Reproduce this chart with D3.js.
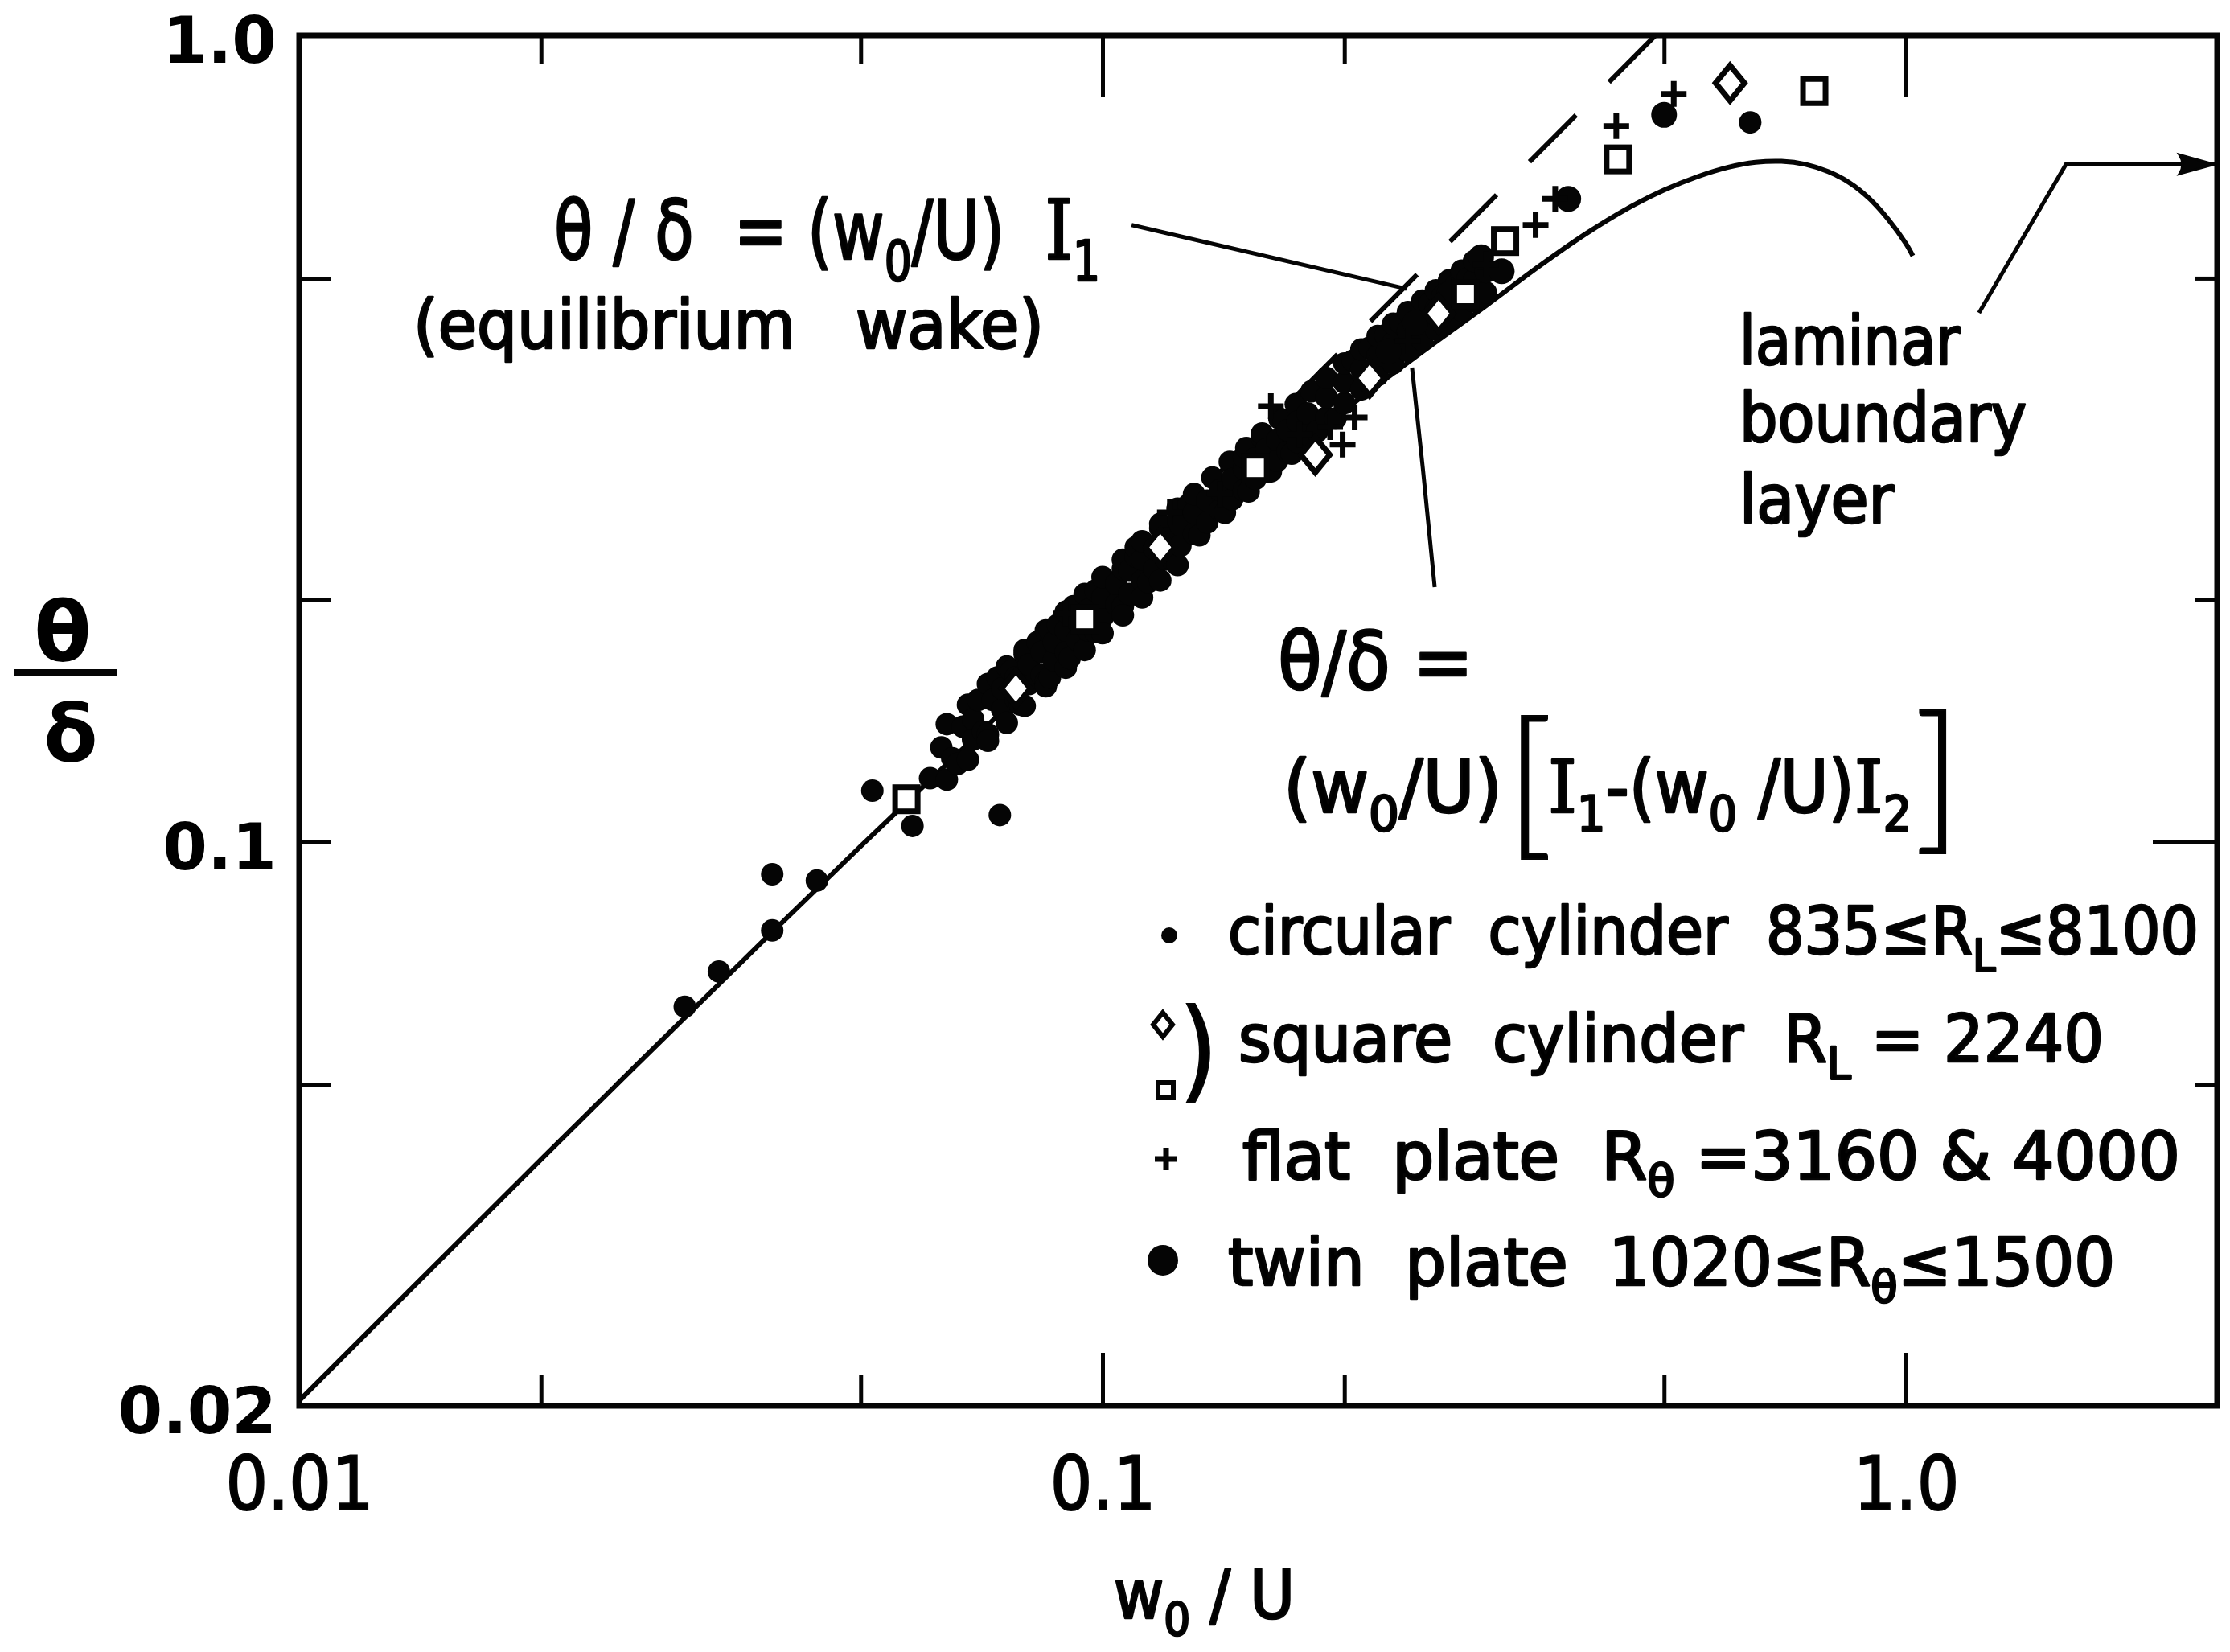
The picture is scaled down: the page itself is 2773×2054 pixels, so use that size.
<!DOCTYPE html>
<html>
<head>
<meta charset="utf-8">
<title>Momentum thickness ratio in wakes</title>
<script src="https://cdn.jsdelivr.net/npm/d3@7/dist/d3.min.js"></script>
<style>
  html, body { margin: 0; padding: 0; background: #fff; }
  svg { display: block; }
  text { fill: #000; }
</style>
</head>
<body>
<svg id="chart" width="2773" height="2054"></svg>
<script>
// ---- axes ----
const xDomain = [0.01, 2.44];
const yDomain = [0.02, 1.0];
const xMajorTicks = [0.1, 1.0];
const xMinorTicks = [0.02, 0.05, 0.2, 0.5];
const xLabelValues = [0.01, 0.1, 1.0];
const xLabelTexts = ["0.01", "0.1", "1.0"];
const yLeftTicks = [0.05, 0.1, 0.2, 0.5];
const yRightMinorTicks = [0.05, 0.2, 0.5];
const yRightMajorTicks = [0.1];
const yLabelValues = [0.02, 0.1, 1.0];
const yLabelTexts = ["0.02", "0.1", "1.0"];

// ---- curves (w0/U, theta/delta) ----
// theta/delta = (w0/U)[I1 - (w0/U) I2]
const wakeCurve = [
  [0.01, 0.0203], [0.02, 0.0404], [0.03, 0.0602], [0.05, 0.0988], [0.07, 0.136],
  [0.1, 0.190], [0.15, 0.272], [0.2, 0.343], [0.25, 0.405], [0.3, 0.462],
  [0.35, 0.518], [0.4, 0.568], [0.45, 0.610], [0.5, 0.643], [0.55, 0.668],
  [0.6, 0.686], [0.65, 0.696], [0.7, 0.698], [0.75, 0.692], [0.8, 0.678],
  [0.85, 0.657], [0.9, 0.628], [0.95, 0.592], [1.0, 0.552], [1.02, 0.533]
];
// theta/delta = (w0/U) I1  (equilibrium wake), drawn from the top edge downward
const equilibriumLine = [[0.488, 1.0], [0.133, 0.273]];

// ---- annotation leaders ----
const leaderEquilibrium = [[0.1087, 0.582], [0.239, 0.485]];
const leaderWake = [[0.2428, 0.3875], [0.2505, 0.290], [0.2591, 0.207]];
const leaderLaminar = [[1.233, 0.453], [1.582, 0.692], [2.44, 0.692]];

// ---- data ----
const circularCylinder = [
  [0.0302, 0.0625], [0.0333, 0.0691], [0.0388, 0.0777], [0.0388, 0.0912], [0.0441, 0.0896],
  [0.0517, 0.1158], [0.0580, 0.1047], [0.0745, 0.1080],
  [0.061, 0.120], [0.063, 0.131], [0.064, 0.140], [0.064, 0.1195], [0.065, 0.127], [0.066, 0.125],
  [0.067, 0.139], [0.068, 0.148], [0.068, 0.1265], [0.069, 0.134], [0.069, 0.142], [0.070, 0.150],
  [0.071, 0.137], [0.072, 0.136], [0.072, 0.157], [0.072, 0.1335], [0.073, 0.150], [0.074, 0.160],
  [0.075, 0.146], [0.075, 0.155], [0.076, 0.165], [0.076, 0.1405], [0.077, 0.163], [0.078, 0.150],
  [0.078, 0.160], [0.079, 0.148], [0.080, 0.171], [0.080, 0.173], [0.080, 0.1475], [0.081, 0.157],
  [0.081, 0.166], [0.083, 0.177], [0.084, 0.161], [0.084, 0.172], [0.085, 0.158], [0.085, 0.183],
  [0.085, 0.156], [0.086, 0.160], [0.086, 0.183], [0.087, 0.168], [0.087, 0.177], [0.088, 0.186],
  [0.090, 0.172], [0.090, 0.183], [0.090, 0.193], [0.090, 0.1645], [0.091, 0.169], [0.092, 0.196],
  [0.093, 0.178], [0.093, 0.188], [0.095, 0.203], [0.095, 0.173], [0.096, 0.183], [0.096, 0.194],
  [0.098, 0.182], [0.098, 0.205], [0.100, 0.190], [0.100, 0.201], [0.100, 0.213], [0.100, 0.1815],
  [0.104, 0.197], [0.104, 0.209], [0.106, 0.196], [0.106, 0.218], [0.106, 0.224], [0.106, 0.191],
  [0.108, 0.203], [0.108, 0.217], [0.110, 0.226], [0.110, 0.232], [0.112, 0.211], [0.112, 0.224],
  [0.112, 0.236], [0.112, 0.201], [0.114, 0.210], [0.116, 0.218], [0.116, 0.231], [0.118, 0.245],
  [0.118, 0.248], [0.118, 0.211], [0.120, 0.224], [0.120, 0.238], [0.122, 0.224], [0.124, 0.259],
  [0.124, 0.2205], [0.125, 0.233], [0.125, 0.247], [0.128, 0.262], [0.130, 0.241], [0.130, 0.256],
  [0.130, 0.270], [0.132, 0.240], [0.135, 0.249], [0.135, 0.265], [0.137, 0.283], [0.140, 0.258],
  [0.140, 0.273], [0.142, 0.256], [0.144, 0.296], [0.145, 0.266], [0.145, 0.282], [0.150, 0.273],
  [0.150, 0.290], [0.150, 0.300], [0.151, 0.308], [0.152, 0.272], [0.155, 0.282], [0.155, 0.299],
  [0.158, 0.317], [0.158, 0.321], [0.160, 0.290], [0.160, 0.307], [0.162, 0.288], [0.165, 0.297],
  [0.165, 0.315], [0.166, 0.335], [0.168, 0.334], [0.170, 0.305], [0.170, 0.324], [0.172, 0.303],
  [0.174, 0.349], [0.175, 0.313], [0.175, 0.332], [0.180, 0.320], [0.180, 0.340], [0.182, 0.362],
  [0.185, 0.323], [0.190, 0.336], [0.190, 0.356], [0.190, 0.376], [0.195, 0.335], [0.200, 0.350],
  [0.200, 0.371], [0.200, 0.392], [0.205, 0.395], [0.210, 0.364], [0.210, 0.386], [0.210, 0.408],
  [0.215, 0.410], [0.220, 0.379], [0.220, 0.401], [0.220, 0.424], [0.225, 0.425], [0.230, 0.392],
  [0.230, 0.416], [0.230, 0.439], [0.235, 0.440], [0.240, 0.406], [0.240, 0.430], [0.240, 0.454],
  [0.250, 0.419], [0.250, 0.444], [0.250, 0.469], [0.255, 0.465], [0.260, 0.432], [0.260, 0.458],
  [0.260, 0.483], [0.265, 0.475], [0.270, 0.444], [0.270, 0.471], [0.270, 0.490], [0.270, 0.497],
  [0.275, 0.490], [0.280, 0.456], [0.280, 0.484], [0.280, 0.505], [0.280, 0.511], [0.285, 0.500],
  [0.290, 0.468], [0.290, 0.497], [0.290, 0.525], [0.300, 0.480], [0.300, 0.509], [0.640, 0.780]
];
const squareCylinderDiamonds = [
  [0.078, 0.155], [0.118, 0.232], [0.184, 0.302], [0.215, 0.376], [0.262, 0.452], [0.604, 0.873]
];
const squareCylinderSquares = [
  [0.057, 0.113], [0.095, 0.189], [0.155, 0.291], [0.283, 0.478], [0.317, 0.556],
  [0.438, 0.702], [0.769, 0.853]
];
const flatPlate = [
  [0.090, 0.192], [0.1213, 0.2563], [0.140, 0.270], [0.162, 0.347], [0.176, 0.320],
  [0.192, 0.327], [0.199, 0.311], [0.206, 0.336], [0.240, 0.418], [0.300, 0.520],
  [0.346, 0.582], [0.366, 0.627], [0.436, 0.772], [0.514, 0.846]
];
const twinPlate = [
  [0.227, 0.406], [0.245, 0.440], [0.270, 0.478], [0.296, 0.531], [0.314, 0.510],
  [0.380, 0.627], [0.500, 0.797]
];

// ---- legend entries ----
const legendRows = [
  { parts: [{ t: "circular  cylinder  835≤R" }, { t: "L", sub: true }, { t: "≤8100" }] },
  { parts: [{ t: "square  cylinder  R" }, { t: "L", sub: true }, { t: " = 2240" }] },
  { parts: [{ t: "flat  plate  R" }, { t: "θ", sub: true }, { t: " =3160 & 4000" }] },
  { parts: [{ t: "twin  plate  1020≤R" }, { t: "θ", sub: true }, { t: "≤1500" }] }
];

// ================= drawing =================
const INK = "#050505";
const LETTER = '"DejaVu Sans Condensed", "DejaVu Sans", sans-serif';
const SERIF = '"DejaVu Serif", serif';
const svg = d3.select("#chart");
const frame = { left: 372, right: 2757, top: 44, bottom: 1748 };

const x = d3.scaleLog().domain(xDomain).range([frame.left, frame.right]);
const y = d3.scaleLog().domain(yDomain).range([frame.bottom, frame.top]);

svg.append("rect").attr("width", 2773).attr("height", 2054).attr("fill", "#fff");

svg.append("defs").append("clipPath").attr("id", "plot-clip")
  .append("rect")
  .attr("x", frame.left).attr("y", frame.top)
  .attr("width", frame.right - frame.left).attr("height", frame.bottom - frame.top);

// inward tick marks on all four sides
function ticks(axisFn, scale, values, size, transform) {
  const g = svg.append("g").attr("transform", transform)
    .call(axisFn(scale).tickValues(values).tickSize(size).tickFormat(""));
  g.select(".domain").remove();
  g.selectAll(".tick line").attr("stroke", INK).attr("stroke-width", 5);
  return g;
}
ticks(d3.axisBottom, x, xMajorTicks, -66, `translate(0,${frame.bottom})`);
ticks(d3.axisBottom, x, xMinorTicks, -38, `translate(0,${frame.bottom})`);
ticks(d3.axisTop, x, xMajorTicks, -76, `translate(0,${frame.top})`);
ticks(d3.axisTop, x, xMinorTicks, -36, `translate(0,${frame.top})`);
ticks(d3.axisLeft, y, yLeftTicks, -40, `translate(${frame.left},0)`);
ticks(d3.axisRight, y, yRightMinorTicks, -28, `translate(${frame.right},0)`);
ticks(d3.axisRight, y, yRightMajorTicks, -80, `translate(${frame.right},0)`);

// frame
svg.append("rect")
  .attr("x", frame.left).attr("y", frame.top)
  .attr("width", frame.right - frame.left).attr("height", frame.bottom - frame.top)
  .attr("fill", "none").attr("stroke", INK).attr("stroke-width", 7);

// tick labels
const xl = svg.append("g").attr("transform", `translate(0,${frame.bottom})`)
  .call(d3.axisBottom(x).tickValues(xLabelValues)
    .tickFormat(d => xLabelTexts[xLabelValues.indexOf(d)]).tickSize(0).tickPadding(64));
xl.select(".domain").remove();
xl.selectAll("text").style("font-family", LETTER).style("font-size", "92px")
  .attr("fill", INK).attr("stroke", INK).attr("stroke-width", 2);

const yl = svg.append("g").attr("transform", `translate(${frame.left},0)`)
  .call(d3.axisLeft(y).tickValues(yLabelValues)
    .tickFormat(d => yLabelTexts[yLabelValues.indexOf(d)]).tickSize(0).tickPadding(28));
yl.select(".domain").remove();
yl.selectAll("text").attr("dy", "0.42em").style("font-family", '"DejaVu Sans", sans-serif')
  .style("font-weight", "bold").style("font-size", "80px").attr("fill", INK);

// lettering helper with subscripts
function lettering(x0, y0, size, parts, length, family) {
  const t = svg.append("text").attr("x", x0).attr("y", y0)
    .style("font-family", family || LETTER).style("font-size", size + "px")
    .style("white-space", "pre").attr("fill", INK)
    .attr("stroke", INK).attr("stroke-width", 2.6).attr("stroke-linejoin", "round");
  let shift = 0;
  parts.forEach(p => {
    const target = p.sub ? Math.round(size * 0.26) : 0;
    const ts = t.append("tspan").attr("dy", target - shift).text(p.t);
    if (p.sub) ts.style("font-size", Math.round(size * 0.68) + "px");
    if (p.serif) ts.style("font-family", SERIF);
    shift = target;
  });
  if (length) t.attr("textLength", length).attr("lengthAdjust", "spacingAndGlyphs");
  return t;
}

// axis titles
lettering(1385, 2012, 84, [{ t: "w" }, { t: "0", sub: true }, { t: " / U" }], 225);
svg.append("text").attr("x", 78).attr("y", 822).attr("text-anchor", "middle")
  .style("font-family", '"DejaVu Sans", sans-serif').style("font-weight", "bold")
  .style("font-size", "104px").attr("fill", INK).text("θ");
svg.append("line").attr("x1", 18).attr("x2", 145).attr("y1", 836).attr("y2", 836)
  .attr("stroke", INK).attr("stroke-width", 8);
svg.append("text").attr("x", 88).attr("y", 947).attr("text-anchor", "middle")
  .style("font-family", '"DejaVu Sans", sans-serif').style("font-weight", "bold")
  .style("font-size", "98px").attr("fill", INK).text("δ");

// curves
const line = d3.line().x(d => x(d[0])).y(d => y(d[1]));
const plot = svg.append("g").attr("clip-path", "url(#plot-clip)");

plot.append("path").datum(wakeCurve)
  .attr("d", line.curve(d3.curveCatmullRom.alpha(0.5)))
  .attr("fill", "none").attr("stroke", INK).attr("stroke-width", 6);

plot.append("path")
  .attr("d", d3.line().x(d => x(d[0])).y(d => y(d[1]))(equilibriumLine))
  .attr("fill", "none").attr("stroke", INK).attr("stroke-width", 6)
  .attr("stroke-dasharray", "82,58");

// leaders
const straight = d3.line().x(d => x(d[0])).y(d => y(d[1]));
svg.append("path").attr("d", straight(leaderEquilibrium))
  .attr("fill", "none").attr("stroke", INK).attr("stroke-width", 5);
svg.append("path").attr("d", d3.line().x(d => x(d[0])).y(d => y(d[1])).curve(d3.curveNatural)(leaderWake))
  .attr("fill", "none").attr("stroke", INK).attr("stroke-width", 5);
svg.append("path").attr("d", straight(leaderLaminar))
  .attr("fill", "none").attr("stroke", INK).attr("stroke-width", 5);
// arrowhead where the laminar leader meets the right edge
{
  const tip = leaderLaminar[leaderLaminar.length - 1];
  const tx = x(tip[0]) - 3, ty = y(tip[1]);
  svg.append("path")
    .attr("d", `M${tx},${ty} L${tx - 44},${ty - 12} Q${tx - 36},${ty} ${tx - 44},${ty + 12} Z`)
    .attr("fill", INK).attr("stroke", INK).attr("stroke-width", 3);
}

// markers
const marks = svg.append("g");
function plusPath(cx, cy, a) { return `M${cx - a},${cy}H${cx + a}M${cx},${cy - a}V${cy + a}`; }
function diamondPath(cx, cy, w, h) { return `M${cx},${cy - h}L${cx + w},${cy}L${cx},${cy + h}L${cx - w},${cy}Z`; }

marks.selectAll("circle.circular").data(circularCylinder).join("circle")
  .attr("class", "circular")
  .attr("cx", d => x(d[0])).attr("cy", d => y(d[1])).attr("r", 14).attr("fill", INK);

marks.selectAll("circle.twin").data(twinPlate).join("circle")
  .attr("class", "twin")
  .attr("cx", d => x(d[0])).attr("cy", d => y(d[1])).attr("r", 16).attr("fill", INK);

marks.selectAll("path.flat").data(flatPlate).join("path")
  .attr("class", "flat")
  .attr("d", d => plusPath(x(d[0]), y(d[1]), 16))
  .attr("stroke", INK).attr("stroke-width", 7).attr("fill", "none");

marks.selectAll("path.diamond").data(squareCylinderDiamonds).join("path")
  .attr("class", "diamond")
  .attr("d", d => diamondPath(x(d[0]), y(d[1]), 18, 22))
  .attr("stroke", INK).attr("stroke-width", 7).attr("fill", "#fff");

marks.selectAll("rect.square").data(squareCylinderSquares).join("rect")
  .attr("class", "square")
  .attr("x", d => x(d[0]) - 14).attr("y", d => y(d[1]) - 15)
  .attr("width", 28).attr("height", 30)
  .attr("stroke", INK).attr("stroke-width", 7).attr("fill", "#fff");

// annotations
lettering(689, 322, 102, [
  { t: "θ / δ  = (w" }, { t: "0", sub: true }, { t: "/U)  " }, { t: "I", serif: true }, { t: "1", sub: true }
], 679);
lettering(514, 433, 84, [{ t: "(equilibrium   wake)" }], 784);

lettering(1589, 857, 100, [{ t: "θ/δ =" }], 243);
lettering(1596, 1010, 90, [{ t: "(w" }, { t: "0", sub: true }, { t: "/U)" }], 272);
lettering(1925, 1010, 90, [
  { t: "I", serif: true }, { t: "1", sub: true }, { t: "-(w" }, { t: "0", sub: true },
  { t: " /U)" }, { t: "I", serif: true }, { t: "2", sub: true }
], 452);
svg.append("text").attr("x", 1872).attr("y", 1042)
  .style("font-family", "Lato, 'DejaVu Sans', sans-serif").style("font-weight", 300)
  .style("font-size", "200px").attr("fill", INK).attr("stroke", INK).attr("stroke-width", 2).text("[");
svg.append("text").attr("x", 2380).attr("y", 1035)
  .style("font-family", "Lato, 'DejaVu Sans', sans-serif").style("font-weight", 300)
  .style("font-size", "200px").attr("fill", INK).attr("stroke", INK).attr("stroke-width", 2).text("]");

lettering(2163, 453, 84, [{ t: "laminar" }], 274);
lettering(2163, 549, 84, [{ t: "boundary" }], 357);
lettering(2163, 650, 84, [{ t: "layer" }], 192);

// legend
const legendBaselines = [1186, 1320, 1466, 1598];
const legendStarts = [1527, 1540, 1545, 1527];
const legendLengths = [1207, 1076, 1166, 1103];
legendRows.forEach((row, i) => {
  lettering(legendStarts[i], legendBaselines[i], 82, row.parts, legendLengths[i]);
});
const lg = svg.append("g");
lg.append("circle").attr("cx", 1454).attr("cy", 1163).attr("r", 10).attr("fill", INK);
lg.append("path").attr("d", diamondPath(1446, 1274, 12, 15))
  .attr("stroke", INK).attr("stroke-width", 6).attr("fill", "#fff");
lg.append("rect").attr("x", 1440).attr("y", 1346).attr("width", 19).attr("height", 19)
  .attr("stroke", INK).attr("stroke-width", 6).attr("fill", "#fff");
svg.append("text").attr("x", 1466).attr("y", 1352)
  .style("font-family", LETTER).style("font-size", "138px").attr("fill", INK)
  .attr("stroke", INK).attr("stroke-width", 2).text(")");
lg.append("path").attr("d", plusPath(1450, 1441, 14))
  .attr("stroke", INK).attr("stroke-width", 7);
lg.append("circle").attr("cx", 1446).attr("cy", 1567).attr("r", 19).attr("fill", INK);
</script>
</body>
</html>
